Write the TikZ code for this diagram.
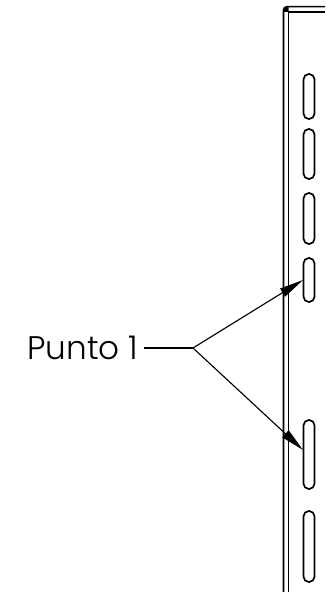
\documentclass[tikz,border=0pt]{standalone}
\usepackage{fontspec}
\setmainfont{Poppins Light}
\usetikzlibrary{arrows.meta}
\tikzset{
  px/.style={x=0.75pt,y=-0.75pt},
  edge/.style={line width=1.2pt,black},
  slot/.style={line width=1.25pt,black,rounded corners=4pt},
  leader/.style={line width=0.85pt,black},
  pointer/.style={leader,-{Triangle[length=18pt,width=7pt]},shorten >=0pt},
  lab/.style={font=\fontsize{24.5}{30}\selectfont,inner sep=0pt,anchor=base west}
}
\begin{document}
\begin{tikzpicture}[px]
\useasboundingbox (0,0) rectangle (325,592);
% frame
\draw[edge,line join=round] (283.5,592) -- (283.5,10) .. controls (283.5,8) and (285,6.7) .. (287,6.7) -- (325,6.7);
\draw[edge] (288.5,592) -- (288.5,12) -- (325,12);
\fill (283.5,10) .. controls (283.5,8) and (285,6.7) .. (287,6.7) -- (288.5,7) -- (288.5,12) -- (283.5,12) -- cycle;
% slots
\foreach \n/\xa/\ya/\xb/\yb in {a/303.5/74/314.5/119, b/303.5/129/314.5/179, c/303.5/193/314.5/244, d/303.5/258/314.5/302, e/303.5/420/314.5/489, f/303.5/511/314.5/582}{
  \draw[slot] (\xa,\ya) rectangle (\xb,\yb);
}
% label and leaders
\node[lab] (label) at (27,359.5) {Punto 1};
\coordinate (stub) at (144,348);
\coordinate (branch) at (193,348);
\coordinate (tipa) at (303,280);
\coordinate (tipb) at (303,450);
\draw[leader] (stub) -- (branch);
\draw[pointer] (branch) -- (tipa);
\draw[pointer] (branch) -- (tipb);
\end{tikzpicture}
\end{document}
